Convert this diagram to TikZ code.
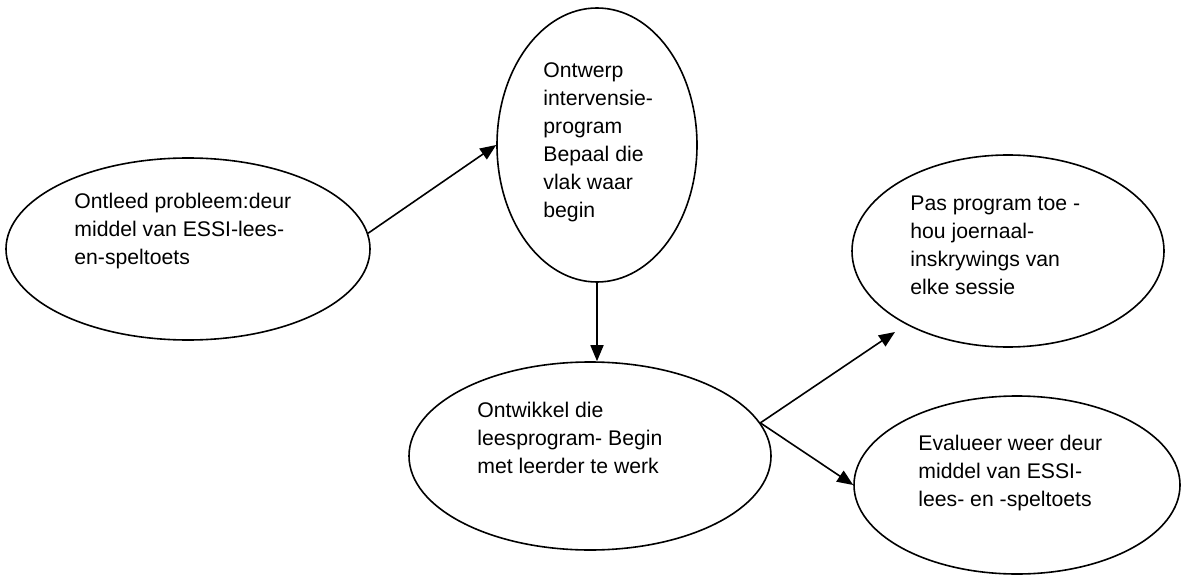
\documentclass[tikz,border=0pt]{standalone}
\usepackage{fontspec}
\setmainfont{Liberation Sans}
\usetikzlibrary{shapes.geometric,arrows.meta}
\tikzstyle{bubble} = [draw=black, ellipse, line width=0.8pt, inner sep=0pt]
\tikzstyle{bubbletext} = [anchor=west, align=left, inner sep=0pt, font=\fontsize{10.6}{14}\selectfont]
\tikzstyle{flow} = [draw=black, line width=0.8pt, -{Triangle[length=8pt, width=6.5pt]}]

\begin{document}
\begin{tikzpicture}[x=0.5pt, y=-0.5pt]
\useasboundingbox (0,0) rectangle (1181,577);

\node [bubble, minimum width=182pt, minimum height=91pt] (ontleed) at (188,249) {};
\node [bubble, minimum width=100pt, minimum height=137pt] (ontwerp) at (597,145) {};
\node [bubble, minimum width=181pt, minimum height=94pt] (ontwikkel) at (590,456) {};
\node [bubble, minimum width=156pt, minimum height=96pt] (pastoe) at (1008,251) {};
\node [bubble, minimum width=163pt, minimum height=89pt] (evalueer) at (1017,485) {};

\node [bubbletext] (ontleedtext) at (74,231) {Ontleed probleem:deur\\middel van ESSI-lees-\\en-speltoets};
\node [bubbletext] (ontwerptext) at (543,142) {Ontwerp\\intervensie-\\program\\Bepaal die\\vlak waar\\begin};
\node [bubbletext] (ontwikkeltext) at (477,438) {Ontwikkel die\\leesprogram- Begin\\met leerder te werk};
\node [bubbletext] (pastoetext) at (910,245) {Pas program toe -\\hou joernaal-\\inskrywings van\\elke sessie};
\node [bubbletext] (evalueertext) at (918,473) {Evalueer weer deur\\middel van ESSI-\\lees- en -speltoets};

\coordinate (paspunt) at (895,332);

\draw [flow] (ontleed.5) -- (ontwerp.west);
\draw [flow] (ontwerp.south) -- (ontwerp.south |- ontwikkel.north);
\draw [flow] (ontwikkel.11) -- (paspunt);
\draw [flow] (ontwikkel.11) -- (evalueer.west);
\end{tikzpicture}
\end{document}
